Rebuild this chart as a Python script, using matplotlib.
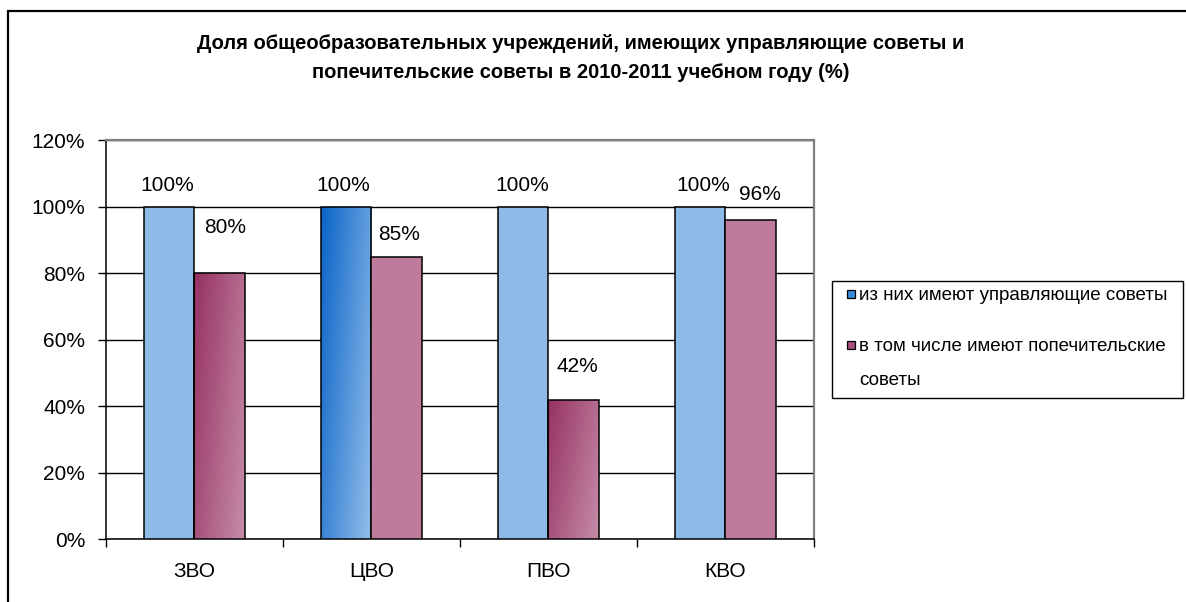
import numpy as np
import matplotlib
matplotlib.use("Agg")
import matplotlib.pyplot as plt
from matplotlib.colors import LinearSegmentedColormap
from matplotlib.patches import Rectangle

plt.rcParams["font.family"] = ["Liberation Sans", "DejaVu Sans"]

W, H = 1186, 602

title = ("Доля общеобразовательных учреждений, имеющих управляющие советы и\n"
         "попечительские советы в 2010-2011 учебном году (%)")
districts = ["ЗВО", "ЦВО", "ПВО", "КВО"]
managing = [100, 100, 100, 100]
trustees = [80, 85, 42, 96]
series_names = ["из них имеют управляющие советы",
                "в том числе имеют попечительские\nсоветы"]

# colours (Excel-ish), some bars carry a gradient fill
BLUE = "#8EBAE8"
MAUVE = "#BF7B9B"
blue_grad = [None, ("#0A64C8", "#94BEEA"), None, None]
mauve_grad = [("#963262", "#C68CA8"), None, ("#963262", "#C68CA8"), None]
# label nudges in px: (dx, gap above bar top)
blue_nudge = [(-2, 21), (-3, 21), (-1, 21), (3, 21)]
mauve_nudge = [(6, 46), (2, 22), (4, 33), (9, 26)]


def fx(x):
    return x / W


def fy(y):
    return 1 - y / H


def shade(ax, bar, c0, c1):
    # diagonal gradient clipped to the bar, dark at top-left
    x0, y0 = bar.get_xy()
    w, h = bar.get_width(), bar.get_height()
    u = np.linspace(0, 1, 64)[None, :]
    v = np.linspace(0, 1, 256)[:, None]
    t = 0.65 * u + 0.35 * v
    cmap = LinearSegmentedColormap.from_list("g", [c0, c1])
    im = ax.imshow(t, cmap=cmap, vmin=0, vmax=1, origin="upper", aspect="auto",
                   extent=(x0, x0 + w, y0, y0 + h), interpolation="bilinear",
                   zorder=bar.get_zorder() - 0.05)
    im.set_clip_path(bar)
    bar.set_facecolor("none")


fig = plt.figure(figsize=(W / 100, H / 100), dpi=100)

# outer chart frame (right and bottom edges fall outside the image)
fig.add_artist(Rectangle((fx(8), -0.1), 1.2, fy(11) + 0.1, transform=fig.transFigure,
                         fill=False, ec="black", lw=1.6))

fig.text(fx(581), fy(58), title, ha="center", va="center", fontsize=14.5,
         fontweight="bold", linespacing=1.62)

left, right, top, bottom = 105.7, 814, 140.2, 539.3
ax = fig.add_axes([fx(left), fy(bottom), (right - left) / W, (bottom - top) / H])

x = np.arange(len(districts))
bw = 1 / 3.5
b1 = ax.bar(x - bw / 2, managing, bw, color=BLUE, edgecolor="black", lw=1.1, zorder=3)
b2 = ax.bar(x + bw / 2, trustees, bw, color=MAUVE, edgecolor="black", lw=1.1, zorder=3)

for bars, grads in ((b1, blue_grad), (b2, mauve_grad)):
    for bar, g in zip(bars, grads):
        if g:
            shade(ax, bar, *g)

for bars, vals, nudges in ((b1, managing, blue_nudge), (b2, trustees, mauve_nudge)):
    for bar, v, (dx, gap) in zip(bars, vals, nudges):
        ax.annotate(f"{v}%", (bar.get_x() + bar.get_width() / 2, v),
                    xytext=(dx * 0.72, gap * 0.72), textcoords="offset points",
                    ha="center", va="center", fontsize=15)

ax.set_xlim(-0.5, 3.5)
ax.set_ylim(0, 120)
ax.set_yticks(range(0, 121, 20))
ax.set_yticklabels([f"{t}%" for t in range(0, 121, 20)])
ax.set_xticks(np.arange(-0.5, 4, 1))
ax.set_xticklabels([])
ax.set_xticks(x, minor=True)
ax.set_xticklabels(districts, minor=True)
ax.tick_params(axis="both", which="major", direction="out", length=5.8, width=1,
               labelsize=15, color="black")
ax.tick_params(axis="y", pad=9)
ax.tick_params(axis="x", which="minor", length=0, labelsize=15, pad=16)

ax.yaxis.grid(True, color="black", lw=1)
ax.set_axisbelow(True)
for s in ("left", "bottom"):
    ax.spines[s].set_color("black")
    ax.spines[s].set_linewidth(1.1)
for s in ("top", "right"):
    ax.spines[s].set_color("#808080")
    ax.spines[s].set_linewidth(1.6)

# legend box drawn in figure pixels
fig.add_artist(Rectangle((fx(832), fy(398)), (1183 - 832) / W, (398 - 280.7) / H,
                         transform=fig.transFigure, fc="white", ec="black", lw=1))
markers = ["#3C8CDC", "#A8507C"]
rows = [294, 345]
for name, col, yc in zip(series_names, markers, rows):
    fig.add_artist(Rectangle((fx(847), fy(yc + 4)), 8 / W, 8 / H, transform=fig.transFigure,
                             fc=col, ec="black", lw=0.9))
    fig.text(fx(859), fy(yc - 7), name, ha="left", va="top", fontsize=13.5,
             linespacing=2.3)

fig.savefig("out.png", dpi=100)
